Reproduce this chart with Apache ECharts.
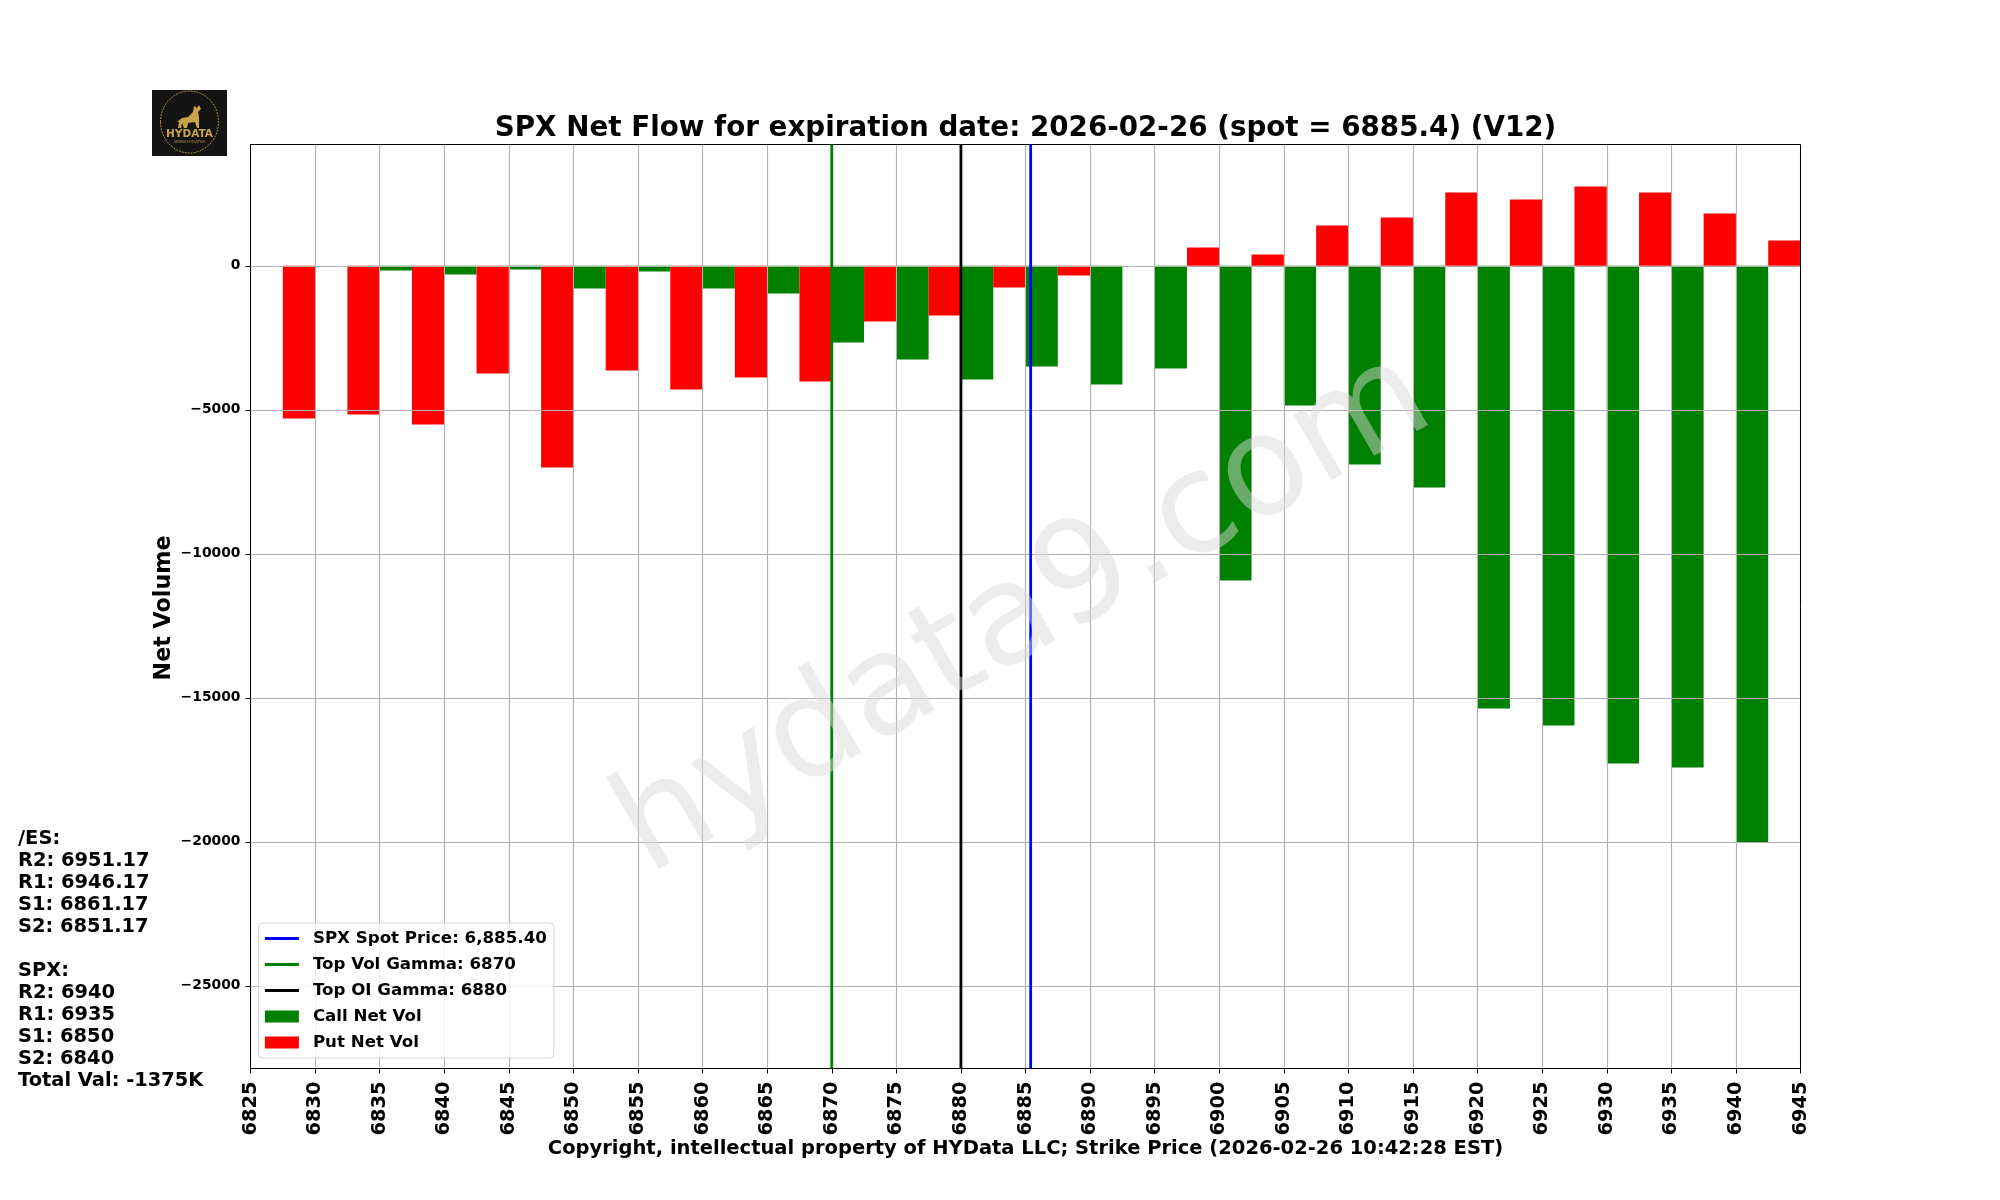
<!DOCTYPE html>
<html>
<head>
<meta charset="utf-8">
<title>SPX Net Flow</title>
<script src="https://cdn.jsdelivr.net/npm/echarts@6/dist/echarts.min.js"></script>
<style>
  html, body { margin: 0; padding: 0; background: #fff; }
  #main { width: 2000px; height: 1200px; }
</style>
</head>
<body>
<div id="main"></div>
<script>
// strikes
var strikes = [6825, 6830, 6835, 6840, 6845, 6850, 6855, 6860, 6865, 6870, 6875, 6880,
               6885, 6890, 6895, 6900, 6905, 6910, 6915, 6920, 6925, 6930, 6935, 6940];
var callNetVol = [0, 0, -162, -300, -127, -787, -197, -787, -961, -2662, -3252, -3947,
                  -3495, -4120, -3565, -10927, -4850, -6898, -7697, -15372, -15962, -17281, -17420, -20024];
var putNetVol = [-5301, -5162, -5509, -3738, -7002, -3634, -4294, -3877, -4016, -1933, -1725, -752,
                 -336, 0, 637, 394, 1400, 1678, 2546, 2303, 2755, 2546, 1817, 880];
var yTicks = [0, -5000, -10000, -15000, -20000, -25000];
var yMin = -27870, yMax = 4210;
var xMin = 6825, xMax = 6945, xStep = 5;

var spotPrice = 6885.4, topVolGamma = 6870, topOiGamma = 6880;
var levelLines = [
  '/ES:', 'R2: 6951.17', 'R1: 6946.17', 'S1: 6861.17', 'S2: 6851.17', '',
  'SPX:', 'R2: 6940', 'R1: 6935', 'S1: 6850', 'S2: 6840', 'Total Val: -1375K'
];

var FONT = '"DejaVu Sans"';
var lineW = 2.78;

// bars sit in the 5 wide slot to the right of each strike
function slot(values) {
  return values.map(function (v, i) { return [strikes[i] + xStep / 2, v]; });
}
function vline(name, x, color, z) {
  return {
    name: name, type: 'line', symbol: 'none', silent: true, z: z,
    lineStyle: { color: color, width: lineW }, itemStyle: { color: color },
    data: [[x, yMin], [x, yMax]]
  };
}
// legend entry for a line series: keep the stroke, hide the dot
function lineEntry(name) {
  return { name: name, icon: 'inherit', itemStyle: { opacity: 0 }, lineStyle: { width: lineW } };
}

var spotName = 'SPX Spot Price: 6,885.40';
var volName = 'Top Vol Gamma: ' + topVolGamma;
var oiName = 'Top OI Gamma: ' + topOiGamma;

var myChart = echarts.init(document.getElementById('main'));

var option = {
  animation: false,
  backgroundColor: '#fff',
  textStyle: { fontFamily: FONT },
  title: {
    text: 'SPX Net Flow for expiration date: 2026-02-26 (spot = 6885.4) (V12)',
    left: 1020.5, top: 110, textAlign: 'center',
    textStyle: { fontFamily: FONT, fontWeight: 'bold', fontSize: 27.78, color: '#000' }
  },
  grid: { left: 250.5, width: 1550, top: 144.5, height: 924, show: true, borderColor: '#000', borderWidth: 1, backgroundColor: 'transparent', z: 6 },
  legend: {
    left: 258.5, top: 923, orient: 'vertical', itemWidth: 34, itemHeight: 12, itemGap: 9,
    padding: [7, 7, 7, 5], backgroundColor: 'rgba(255,255,255,0.8)', borderColor: 'rgba(204,204,204,0.8)', borderWidth: 1, borderRadius: 4,
    selectedMode: false, z: 20,
    textStyle: { fontFamily: FONT, fontWeight: 'bold', fontSize: 16.67, color: '#000', padding: [0, 0, 0, 9] },
    data: [
      lineEntry(spotName), lineEntry(volName), lineEntry(oiName),
      { name: 'Call Net Vol', icon: 'rect' }, { name: 'Put Net Vol', icon: 'rect' }
    ]
  },
  xAxis: {
    type: 'value', min: xMin, max: xMax, interval: xStep, z: 5,
    name: 'Copyright, intellectual property of HYData LLC; Strike Price (2026-02-26 10:42:28 EST)',
    nameLocation: 'middle', nameGap: 70.3, nameMoveOverlap: false,
    nameTextStyle: { fontFamily: FONT, fontWeight: 'bold', fontSize: 19.5, color: '#000' },
    axisLine: { onZero: false, lineStyle: { color: '#000', width: 1 } },
    axisTick: { show: true, length: 5, lineStyle: { color: '#000', width: 1 } },
    axisLabel: {
      rotate: 90, margin: 13, fontFamily: FONT, fontWeight: 'bold', fontSize: 19.44, color: '#000',
      formatter: function (v) { return String(v); }
    },
    splitLine: { show: true, lineStyle: { color: '#b0b0b0', width: 1.1 } }
  },
  yAxis: {
    type: 'value', min: yMin, max: yMax, z: 5,
    name: 'Net Volume', nameLocation: 'middle', nameGap: 75.4, nameRotate: 90, nameMoveOverlap: false,
    nameTextStyle: { fontFamily: FONT, fontWeight: 'bold', fontSize: 22.22, color: '#000', padding: [0, 3, 0, 0] },
    axisLine: { show: true, onZero: false, lineStyle: { color: '#000', width: 1 } },
    axisTick: { show: true, length: 5, customValues: yTicks, lineStyle: { color: '#000', width: 1 } },
    axisLabel: {
      customValues: yTicks, margin: 10, fontFamily: FONT, fontWeight: 'bold', fontSize: 13.89, color: '#000',
      formatter: function (v) { return String(v).replace('-', '\u2212'); }
    },
    splitLine: { show: true, lineStyle: { color: '#b0b0b0', width: 1.1 } }
  },
  series: [
    { name: 'Call Net Vol', type: 'bar', barWidth: '50%', barGap: '0%', z: 2, itemStyle: { color: '#008000' }, data: slot(callNetVol) },
    { name: 'Put Net Vol', type: 'bar', barWidth: '50%', barGap: '0%', z: 2, itemStyle: { color: '#ff0000' }, data: slot(putNetVol) },
    vline(spotName, spotPrice, '#0000ff', 8),
    vline(volName, topVolGamma, '#008000', 8),
    vline(oiName, topOiGamma, '#000000', 8)
  ],
  graphic: [
    // watermark
    {
      type: 'text', x: 1025, y: 616, rotation: 30 * Math.PI / 180, z: 15, silent: true,
      style: { text: 'hydata9.com', fontFamily: FONT, fontSize: 138.9, fill: 'rgba(216,216,216,0.49)', textAlign: 'center', textVerticalAlign: 'middle' }
    },
    // side text with the levels
    {
      type: 'text', x: 18, y: 827.5, z: 15,
      style: { text: levelLines.join('\n'), fontFamily: FONT, fontWeight: 'bold', fontSize: 19.44, lineHeight: 22, fill: '#000' }
    },
    // logo, redrawn roughly
    { type: 'rect', z: 15, shape: { x: 152, y: 90, width: 75, height: 66 }, style: { fill: '#141414' } },
    { type: 'ellipse', z: 16, shape: { cx: 189.5, cy: 122, rx: 29, ry: 31 }, style: { fill: 'none', stroke: '#b08d3f', lineWidth: 1, lineDash: [2, 1] } },
    {
      type: 'polygon', z: 16,
      shape: { points: [[177, 122], [182, 118], [188, 117], [193, 112], [194, 106], [197, 108], [199, 105], [201, 109], [198, 112], [199, 117], [199, 128], [197, 128], [195, 122], [188, 123], [187, 128], [184, 128], [182, 123], [181, 128], [178, 128], [179, 122]] },
      style: { fill: '#c9a24a' }
    },
    { type: 'text', x: 189.5, y: 134, z: 16, style: { text: 'HYDATA', fontFamily: FONT, fontSize: 10.5, fontWeight: 'bold', fill: '#c9a24a', textAlign: 'center', textVerticalAlign: 'middle' } },
    { type: 'text', x: 189.5, y: 142, z: 16, style: { text: 'WWW.HYDATA9', fontFamily: FONT, fontSize: 4, fill: '#a88a45', textAlign: 'center', textVerticalAlign: 'middle' } }
  ]
};

myChart.setOption(option);
</script>
</body>
</html>
